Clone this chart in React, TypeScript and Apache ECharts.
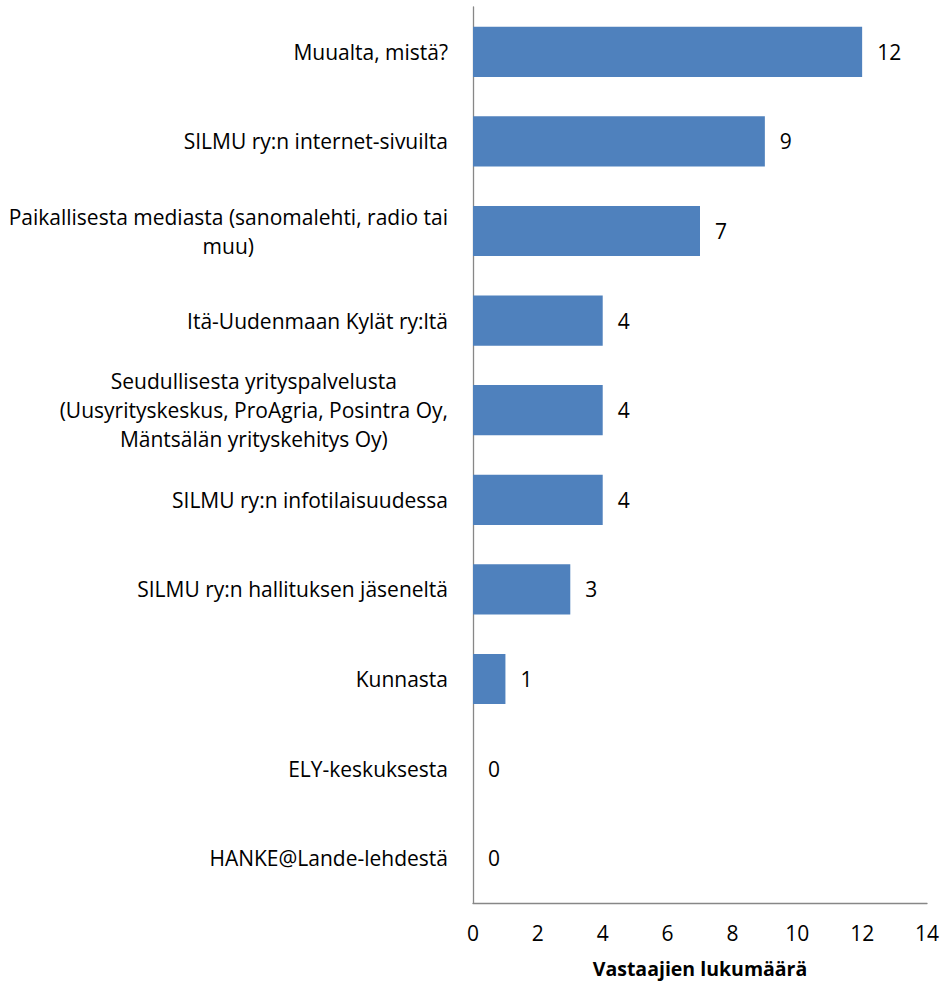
import React, { useEffect, useRef } from "react";
import * as echarts from "echarts";

const categories: string[] = [
  "Muualta, mistä?",
  "SILMU ry:n internet-sivuilta",
  "Paikallisesta mediasta (sanomalehti, radio tai\nmuu)",
  "Itä-Uudenmaan Kylät ry:ltä",
  "Seudullisesta yrityspalvelusta\n(Uusyrityskeskus, ProAgria, Posintra Oy,\nMäntsälän yrityskehitys Oy)",
  "SILMU ry:n infotilaisuudessa",
  "SILMU ry:n hallituksen jäseneltä",
  "Kunnasta",
  "ELY-keskuksesta",
  "HANKE@Lande-lehdestä",
];
const values: number[] = [12, 9, 7, 4, 4, 4, 3, 1, 0, 0];
const axisTitle = "Vastaajien lukumäärä";
const xMin = 0;
const xMax = 14;
const xInterval = 2;

const FONT = "'Open Sans', Lato, sans-serif";
const FS = 21;

export default function App() {
  const ref = useRef<HTMLDivElement>(null);
  useEffect(() => {
    if (!ref.current) return;
    const chart = echarts.init(ref.current, undefined, { renderer: "svg" });
    chart.setOption({
      animation: false,
      textStyle: { fontFamily: FONT },
      grid: { left: 473, right: 19, top: 7, bottom: 80, containLabel: false },
      xAxis: {
        type: "value",
        min: xMin,
        max: xMax,
        interval: xInterval,
        name: axisTitle,
        nameLocation: "middle",
        nameGap: 55,
        nameTextStyle: { fontFamily: FONT, fontSize: 19.5, fontWeight: "bold", color: "#000" },
        axisLine: { show: true, lineStyle: { color: "#878787", width: 1.3 } },
        axisTick: { show: false },
        splitLine: { show: false },
        axisLabel: { fontFamily: FONT, fontSize: FS, color: "#000", margin: 19 },
      },
      yAxis: {
        type: "category",
        data: categories,
        inverse: true,
        axisLine: { show: true, lineStyle: { color: "#878787", width: 1.3 } },
        axisTick: { show: false },
        splitLine: { show: false },
        axisLabel: {
          align: "right",
          margin: 25,
          fontFamily: FONT,
          fontSize: FS,
          color: "#000",
          lineHeight: 29,
          formatter: (v: string) =>
            v
              .split("\n")
              .map((l) => `{c|${l}}`)
              .join("\n"),
          rich: {
            c: { align: "center", fontFamily: FONT, fontSize: FS, color: "#000", lineHeight: 29 },
          },
        },
      },
      series: [
        {
          type: "bar",
          data: values,
          barWidth: "56%",
          itemStyle: { color: "#4F81BD" },
          label: {
            show: true,
            position: "right",
            distance: 15,
            fontFamily: FONT,
            fontSize: FS,
            color: "#000",
          },
        },
      ],
    });
    return () => chart.dispose();
  }, []);
  return (
    <div
      ref={ref}
      style={{ position: "absolute", left: 0, top: 0, width: 946, height: 983 }}
    />
  );
}
